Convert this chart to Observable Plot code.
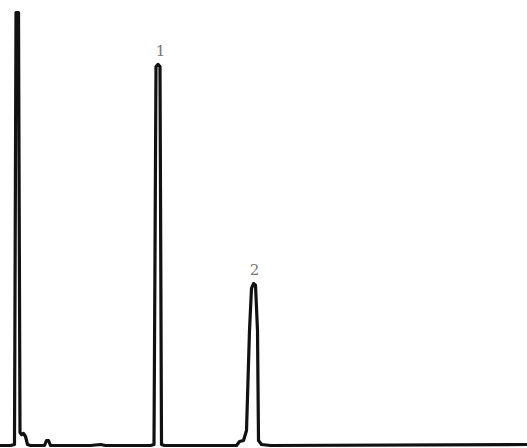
<!DOCTYPE html>
<html>
<head>
<meta charset="utf-8">
<script src="https://cdn.jsdelivr.net/npm/d3@7"></script>
<script src="https://cdn.jsdelivr.net/npm/@observablehq/plot@0.6"></script>
<style>
  html, body { margin: 0; padding: 0; background: #fff; }
  #chart svg { display: block; }
</style>
</head>
<body>
<div id="chart"></div>
<script>
// Chromatogram trace: retention time (min) and detector signal (% of full scale)
const time = [0, 0.2, 0.28, 0.31, 0.36, 0.39, 0.42, 0.46, 0.5, 0.54, 0.6,
  0.88, 0.92, 0.96, 1.0, 1.8, 2.0, 2.1, 3.0, 3.07, 3.11, 3.15, 3.19, 3.22, 3.28,
  4.0, 4.72, 4.78, 4.86, 4.92, 4.98, 5.02, 5.06, 5.1, 5.14, 5.16, 5.22, 5.4, 10.54];
const signal = [0, 0, 0.23, 100, 100, 3.0, 2.54, 2.77, 2.08, 0.23, 0,
  0, 1.15, 1.15, 0, 0, 0.23, 0, 0, 0.23, 87.5, 88.0, 87.5, 0.23, 0,
  0, 0, 0.92, 1.15, 3.46, 26.6, 36.3, 37.4, 37.0, 26.6, 1.15, 0.23, 0, 0.23];

// Peak labels
const peakLabels = ["1", "2"];
const peakTimes = [3.2, 5.08];
const peakLabelY = [91.0, 40.6];

const trace = time.map((t, i) => ({t, s: signal[i]}));
const labels = peakLabels.map((l, i) => ({label: l, t: peakTimes[i], s: peakLabelY[i]}));

const chart = Plot.plot({
  width: 527,
  height: 448,
  marginTop: 12,
  marginBottom: 3,
  marginLeft: 0,
  marginRight: 0,
  x: {domain: [0, 10.54], axis: null},
  y: {domain: [0, 100], axis: null},
  marks: [
    Plot.line(trace, {x: "t", y: "s", stroke: "#111", strokeWidth: 3.2, strokeLinejoin: "round", curve: "linear"}),
    Plot.text(labels, {x: "t", y: "s", text: "label", fontSize: 15, fill: "#777", fontFamily: "DejaVu Serif"})
  ]
});
document.getElementById("chart").appendChild(chart);
</script>
</body>
</html>
